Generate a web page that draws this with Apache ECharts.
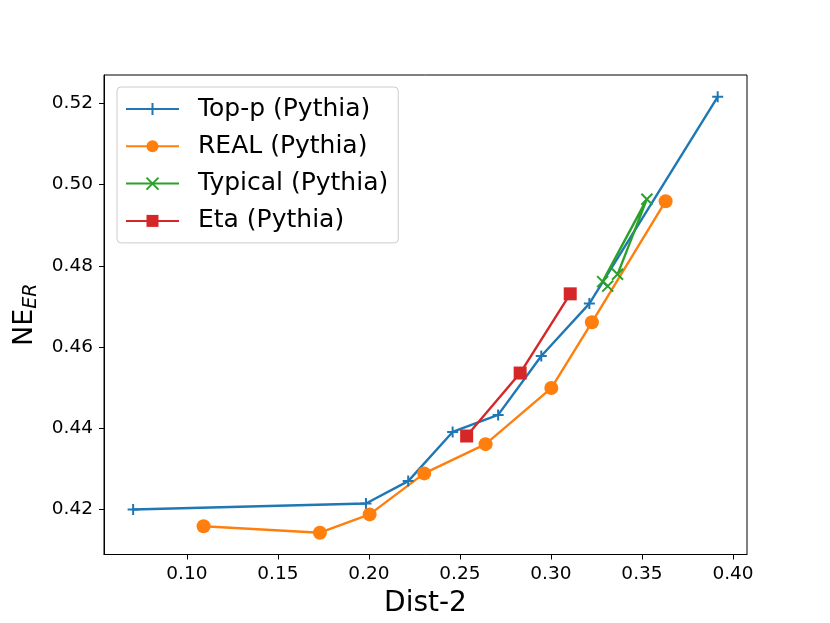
<!DOCTYPE html>
<html>
<head>
<meta charset="utf-8">
<script src="https://cdn.jsdelivr.net/npm/echarts@6/dist/echarts.min.js"></script>
<style>html,body{margin:0;padding:0;background:#fff;}#c{width:830px;height:623px;}</style>
</head>
<body>
<div id="c"></div>
<script>
// Data: [Dist-2, NE_ER]
const topPX = [0.0705, 0.1984, 0.2216, 0.2460, 0.2710, 0.2947, 0.3211, 0.3916];
const topPY = [0.4200, 0.4215, 0.4270, 0.4391, 0.4433, 0.4578, 0.4707, 0.5216];
const realX = [0.1092, 0.1731, 0.2004, 0.2304, 0.2641, 0.3002, 0.3225, 0.3630];
const realY = [0.4159, 0.4143, 0.4188, 0.4289, 0.4361, 0.4499, 0.4661, 0.4959];
const typicalX = [0.3312, 0.3284, 0.3527, 0.3366];
const typicalY = [0.4750, 0.4761, 0.4964, 0.4779];
const etaX = [0.2537, 0.2831, 0.3106];
const etaY = [0.4381, 0.4536, 0.4731];
const xTicks = [0.10, 0.15, 0.20, 0.25, 0.30, 0.35, 0.40];
const yTicks = [0.42, 0.44, 0.46, 0.48, 0.50, 0.52];
const seriesNames = ['Top-p (Pythia)', 'REAL (Pythia)', 'Typical (Pythia)', 'Eta (Pythia)'];

const zip = (xs, ys) => xs.map((x, i) => [x, ys[i]]);
const FONT = 'DejaVu Sans';
const colors = ['#1f77b4', '#ff7f0e', '#2ca02c', '#d62728'];
const PLUS = 'path://M5,0 L5,10 M0,5 L10,5';
const CROSS = 'path://M0,0 L10,10 M10,0 L0,10';

function lineSeries(name, data, color, symbol, size, stroke) {
  return {
    name: name, type: 'line', data: data,
    symbol: symbol, symbolSize: size, showAllSymbol: true,
    lineStyle: { color: color, width: 2.4 },
    itemStyle: stroke ? { color: 'rgba(0,0,0,0)', borderColor: color, borderWidth: 2 } : { color: color, borderWidth: 0 },
    emphasis: { disabled: true },
    animation: false
  };
}

const chart = echarts.init(document.getElementById('c'), null, { renderer: 'canvas' });
chart.setOption({
  backgroundColor: '#fff',
  color: colors,
  textStyle: { fontFamily: FONT },
  grid: { left: 104, right: 83, top: 75, bottom: 68.5, show: true, borderColor: '#000', borderWidth: 1, containLabel: false, outerBoundsMode: 'none' },
  legend: {
    orient: 'vertical', left: 117, top: 87,
    padding: [9, 10, 9, 8],
    itemWidth: 53, itemHeight: 15, itemGap: 11.3,
    backgroundColor: 'rgba(255,255,255,0.8)', borderColor: '#cccccc', borderWidth: 1, borderRadius: 4,
    textStyle: { fontFamily: FONT, fontSize: 25, color: '#000', lineHeight: 26, padding: [0, 0, 0, 14] },
    data: seriesNames
  },
  xAxis: {
    type: 'value', min: 0.0545, max: 0.4077,
    name: 'Dist-2', nameLocation: 'middle', nameGap: 35,
    nameTextStyle: { fontFamily: FONT, fontSize: 28, color: '#000' },
    splitLine: { show: false },
    axisLine: { show: true, onZero: false, lineStyle: { color: '#000', width: 1 } },
    axisTick: { show: true, inside: false, length: 5, lineStyle: { color: '#000' }, customValues: xTicks },
    axisLabel: { fontFamily: FONT, fontSize: 18.5, color: '#000', margin: 10, customValues: xTicks, formatter: v => v.toFixed(2) }
  },
  yAxis: {
    type: 'value', min: 0.40893, max: 0.52697,
    name: '{a|NE}{b|ER}', nameLocation: 'middle', nameGap: 45, nameRotate: 90,
    nameTextStyle: {
      fontFamily: FONT, color: '#000',
      rich: {
        a: { fontFamily: FONT, fontSize: 27, lineHeight: 30, verticalAlign: 'top', color: '#000' },
        b: { fontFamily: FONT, fontSize: 19, fontStyle: 'italic', lineHeight: 44, verticalAlign: 'top', color: '#000', padding: [10, 0, 0, 0] }
      }
    },
    splitLine: { show: false },
    axisLine: { show: true, onZero: false, lineStyle: { color: '#000', width: 1 } },
    axisTick: { show: true, inside: false, length: 5, lineStyle: { color: '#000' }, customValues: yTicks },
    axisLabel: { fontFamily: FONT, fontSize: 18.5, color: '#000', margin: 11, customValues: yTicks, formatter: v => v.toFixed(2) }
  },
  series: [
    lineSeries(seriesNames[0], zip(topPX, topPY), colors[0], PLUS, 11, true),
    lineSeries(seriesNames[1], zip(realX, realY), colors[1], 'circle', 14, false),
    lineSeries(seriesNames[2], zip(typicalX, typicalY), colors[2], CROSS, 11, true),
    lineSeries(seriesNames[3], zip(etaX, etaY), colors[3], 'rect', 13, false)
  ]
});
</script>
</body>
</html>
